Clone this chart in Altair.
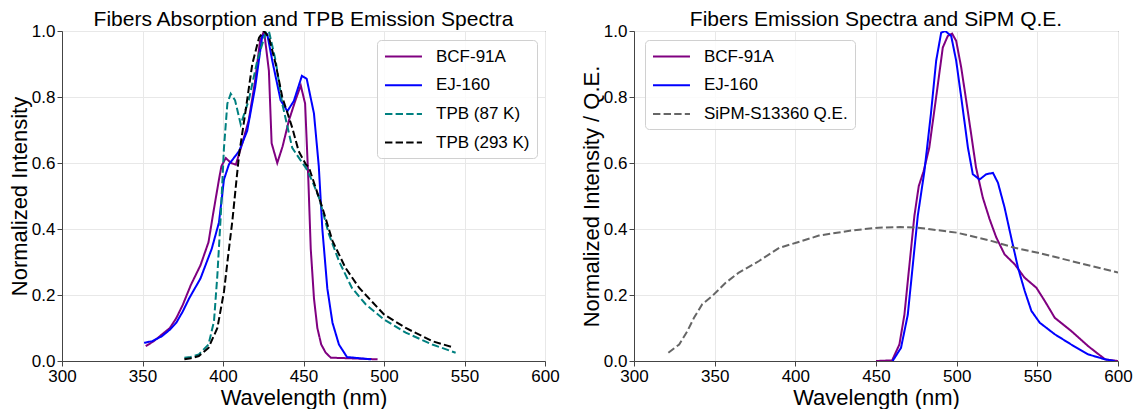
import altair as alt
import pandas as pd

FONT = "Liberation Sans"

# ---------------- Left panel: absorption & TPB emission ----------------
bcf_abs_x = [352, 357, 362, 367, 371, 375, 380, 386, 391, 394, 397.5, 399, 401.7, 405, 408, 412, 416, 420, 423, 425.5,
             428.5, 430.2, 433.7, 437, 441, 445, 448.3, 451, 453, 454.5, 456.5, 458.6, 461, 463.8, 467, 480, 496]
bcf_abs_y = [0.045, 0.06, 0.08, 0.10, 0.13, 0.17, 0.23, 0.29, 0.36, 0.45, 0.55, 0.59, 0.615, 0.60, 0.595, 0.66, 0.73, 0.85, 0.97, 1.0,
             0.88, 0.66, 0.60, 0.65, 0.73, 0.79, 0.835, 0.78, 0.55, 0.34, 0.19, 0.10, 0.05, 0.025, 0.01, 0.008, 0.005]

ej_abs_x = [351, 356, 362, 367, 371, 375, 379, 386, 393, 397.5, 400.6, 403.7, 410, 415, 420, 424.4, 427.5, 430.6, 435.8, 440,
            444, 449, 452, 456.5, 459.5, 461.7, 464.8, 468, 472, 477, 492]
ej_abs_y = [0.055, 0.06, 0.075, 0.095, 0.116, 0.15, 0.19, 0.25, 0.34, 0.42, 0.55, 0.596, 0.636, 0.697, 0.83, 0.985, 0.99, 0.91, 0.79, 0.757,
            0.788, 0.864, 0.855, 0.75, 0.59, 0.40, 0.22, 0.116, 0.05, 0.012, 0.005]

tpb87_x = [376, 380, 385, 391, 394.4, 396.5, 398.6, 400.6, 402.7, 404.8, 407.5, 411, 416, 421.3, 426.5, 428.5, 432.7, 436.8, 443,
           449.3, 451.4, 455.5, 459.6, 465.8, 472, 480, 488.6, 500, 513.5, 530, 544.5]
tpb87_y = [0.01, 0.012, 0.02, 0.05, 0.12, 0.26, 0.44, 0.646, 0.78, 0.81, 0.79, 0.717, 0.79, 0.91, 0.995, 1.0, 0.91, 0.78, 0.646,
           0.60, 0.586, 0.545, 0.495, 0.384, 0.303, 0.222, 0.172, 0.126, 0.086, 0.05, 0.025]

tpb293_x = [376, 380, 385, 391, 396.5, 400.6, 403.7, 405.8, 408.3, 410, 414, 418.2, 422.4, 425.5, 428.6, 432.7, 436.8, 443, 447,
            451.4, 453.4, 459.6, 461.7, 468, 476, 484.5, 500, 513.5, 530, 542.4]
tpb293_y = [0.005, 0.008, 0.015, 0.04, 0.1, 0.21, 0.34, 0.424, 0.545, 0.626, 0.757, 0.9, 0.98, 1.0, 0.98, 0.9, 0.8, 0.707, 0.636,
            0.596, 0.586, 0.495, 0.465, 0.364, 0.283, 0.222, 0.141, 0.10, 0.06, 0.042]

# ---------------- Right panel: emission & SiPM QE ----------------
bcf_em_x = [450, 460, 464.5, 467.6, 470.7, 473.8, 476.5, 479.5, 483, 487.3, 491.4, 494.5, 497.2, 499.7, 502.8, 505.9, 509, 512,
            516.2, 520.4, 524.5, 529.7, 536, 542, 549.4, 554.6, 560.8, 571, 581.5, 592, 600]
bcf_em_y = [0.0, 0.002, 0.05, 0.14, 0.29, 0.44, 0.53, 0.575, 0.646, 0.8, 0.95, 0.985, 0.992, 0.97, 0.89, 0.79, 0.687, 0.586,
            0.495, 0.43, 0.375, 0.323, 0.293, 0.253, 0.222, 0.182, 0.131, 0.091, 0.045, 0.005, 0.0]

ej_em_x = [460.3, 465.5, 469.7, 472.8, 475.9, 480, 484, 487.3, 490.4, 492.9, 496.6, 499.7, 502.8, 507, 510, 514.2, 518.3, 522.5,
           525.6, 529.7, 533.8, 538, 542.2, 546.3, 551.5, 560.8, 571, 581.5, 592, 598]
ej_em_y = [0.0, 0.04, 0.14, 0.29, 0.44, 0.575, 0.747, 0.91, 0.995, 1.0, 0.985, 0.91, 0.8, 0.646, 0.566, 0.55, 0.566, 0.57,
           0.54, 0.465, 0.374, 0.283, 0.212, 0.152, 0.116, 0.081, 0.05, 0.02, 0.005, 0.0]

qe_x = [321.3, 328, 333, 337.2, 342.3, 348.5, 356.8, 365, 377.5, 390, 401, 414.6, 435.4, 451.5, 465, 476, 500, 521.4, 536,
        550.4, 571, 600]
qe_y = [0.025, 0.05, 0.09, 0.131, 0.172, 0.197, 0.237, 0.268, 0.303, 0.343, 0.359, 0.38, 0.396, 0.404, 0.406, 0.404, 0.389,
        0.364, 0.343, 0.328, 0.303, 0.268]

x_ticks = [300, 350, 400, 450, 500, 550, 600]
y_ticks = [0.0, 0.2, 0.4, 0.6, 0.8, 1.0]

left_names = ["BCF-91A", "EJ-160", "TPB (87 K)", "TPB (293 K)"]
left_colors = ["#800080", "#0000ff", "#008080", "#000000"]
right_names = ["BCF-91A", "EJ-160", "SiPM-S13360 Q.E."]
right_colors = ["#800080", "#0000ff", "#666666"]
SOLID = [1, 0]
DASH = [7.4, 3.2]


def frame(name, xs, ys, order):
    return pd.DataFrame({"x": xs, "y": ys, "series": name, "order": order, "idx": list(range(len(xs)))})


left_df = pd.concat([
    frame(left_names[0], bcf_abs_x, bcf_abs_y, 0),
    frame(left_names[1], ej_abs_x, ej_abs_y, 1),
    frame(left_names[2], tpb87_x, tpb87_y, 2),
    frame(left_names[3], tpb293_x, tpb293_y, 3),
], ignore_index=True)

right_df = pd.concat([
    frame(right_names[0], bcf_em_x, bcf_em_y, 0),
    frame(right_names[1], ej_em_x, ej_em_y, 1),
    frame(right_names[2], qe_x, qe_y, 2),
], ignore_index=True)


def legend(lx, ly):
    return alt.Legend(title=None, orient="none", legendX=lx, legendY=ly,
                      symbolType="M-1,0H3.35", symbolSize=289, symbolStrokeWidth=2,
                      labelFont=FONT, labelFontSize=17, labelColor="#000000", labelOffset=33,
                      fillColor="rgba(255,255,255,0.8)", strokeColor="#d0d0d0", cornerRadius=4,
                      padding=7, rowPadding=10.7)


def panel(df, names, colors, dashes, title, ytitle, lx, ly, w):
    return alt.Chart(df).mark_line(strokeWidth=2, clip=True).encode(
        x=alt.X("x:Q", scale=alt.Scale(domain=[300, 600], nice=False, zero=False),
                axis=alt.Axis(values=x_ticks, title="Wavelength (nm)", format="d")),
        y=alt.Y("y:Q", scale=alt.Scale(domain=[0, 1], nice=False),
                axis=alt.Axis(values=y_ticks, title=ytitle, format=".1f")),
        color=alt.Color("series:N", scale=alt.Scale(domain=names, range=colors), legend=legend(lx, ly)),
        strokeDash=alt.StrokeDash("series:N", scale=alt.Scale(domain=names, range=dashes), legend=legend(lx, ly)),
        detail="series:N",
        order=alt.Order("idx:Q"),
    ).properties(
        width=w, height=330,
        title=alt.TitleParams(title, font=FONT, fontSize=21, fontWeight="normal", color="#000000",
                              offset=-8, frame="group"),
    )


left = panel(left_df, left_names, left_colors, [SOLID, SOLID, DASH, DASH],
             "Fibers Absorption and TPB Emission Spectra", "Normalized Intensity", 315, 9, 483)
right = panel(right_df, right_names, right_colors, [SOLID, SOLID, DASH],
              "Fibers Emission Spectra and SiPM Q.E.", "Normalized Intensity / Q.E.", 11, 9, 484)

chart = alt.hconcat(left, right, spacing=89, bounds="flush").resolve_scale(
    color="independent", strokeDash="independent"
).properties(
    padding={"left": -1, "top": 0, "right": 0, "bottom": 0}
).configure(
    font=FONT,
).configure_view(
    stroke="#444444", strokeWidth=1
).configure_axis(
    labelFont=FONT, labelFontSize=17, labelColor="#000000",
    titleFont=FONT, titleFontSize=22, titleFontWeight="normal", titleColor="#000000",
    domainColor="#444444", tickColor="#444444", tickSize=5, labelPadding=2,
    gridColor="#e8e8e8", gridWidth=1, labelFlush=False, labelOverlap=False,
).configure_axisY(titlePadding=0).configure_axisX(titlePadding=3)

chart.save("out.html", embed_options={"renderer": "svg", "actions": False})
